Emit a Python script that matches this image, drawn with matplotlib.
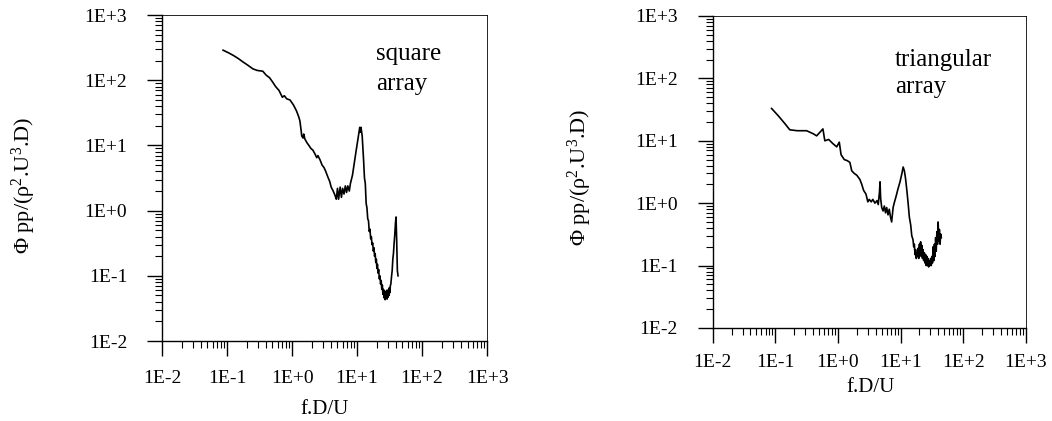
import numpy as np
import matplotlib
matplotlib.use("Agg")
import matplotlib.pyplot as plt
from matplotlib.ticker import LogLocator, FuncFormatter, NullFormatter

plt.rcParams['font.family'] = ['Liberation Serif', 'DejaVu Serif']
plt.rcParams['mathtext.fontset'] = 'custom'
plt.rcParams['mathtext.rm'] = 'Liberation Serif'
plt.rcParams['mathtext.it'] = 'Liberation Serif:italic'

# square array spectrum (f.D/U, Phi_pp / (rho^2 U^3 D))
sq_x = [0.087, 0.105, 0.126, 0.15, 0.178, 0.21, 0.25, 0.29, 0.32, 0.355, 0.40, 0.45,
        0.50, 0.56, 0.63, 0.71, 0.76, 0.83, 0.93, 1.05, 1.17, 1.26, 1.32, 1.38, 1.41,
        1.48, 1.51, 1.58, 1.70, 1.82, 1.95, 2.09, 2.24, 2.4, 2.5, 2.7, 2.9, 3.1, 3.3,
        3.55, 3.8, 4.0, 4.3, 4.6, 4.8, 5.0, 5.2, 5.5, 5.75, 6.0, 6.3, 6.6, 6.9, 7.2,
        7.6, 7.9, 8.5, 9.1, 9.8, 10.5, 11.0, 11.2, 11.5, 12.0,
        12.6, 13.0, 13.4, 13.8, 14.2, 14.6, 15.0, 15.4, 15.8, 16.2,
        16.6, 17.0, 17.4, 17.8, 18.2, 18.6, 19.0, 19.4, 19.8, 20.2,
        20.6, 21.0, 21.5, 22.0, 22.5, 23.0, 23.5, 24.0, 24.5, 25.0,
        25.5, 26.0, 26.5, 27.0, 27.5, 28.0, 28.5, 29.0, 29.5, 30.0,
        30.5, 31.0, 31.5, 32.0, 32.5, 33.1, 34.0, 34.7, 35.5, 36.3,
        37.2, 38.0, 39.0, 39.8, 40.7, 41.7, 42.7]
sq_y = [290, 265, 240, 215, 190, 170, 150, 142, 140, 138, 120, 110,
        95, 80, 70, 55, 58, 52, 50, 42, 34, 28, 24, 17, 14,
        13, 15, 12.5, 11, 10, 9, 8.5, 7.5, 6.5, 7, 6, 5, 4.6, 4.0,
        3.3, 2.8, 2.3, 2.0, 1.7, 1.5, 2.2, 1.5, 2.3, 1.6, 2.2, 1.8, 2.4, 1.9, 2.4,
        2.0, 2.6, 3.5, 5.5, 9, 14, 19, 16, 19, 14,
        6, 3.2, 2.6, 1.3, 1.1, 0.75, 0.7, 0.48, 0.52, 0.37,
        0.40, 0.30, 0.32, 0.24, 0.27, 0.20, 0.22, 0.16, 0.18, 0.13,
        0.15, 0.11, 0.125, 0.09, 0.10, 0.075, 0.085, 0.062, 0.072, 0.052,
        0.062, 0.046, 0.058, 0.043, 0.056, 0.045, 0.06, 0.044, 0.058, 0.047,
        0.062, 0.05, 0.066, 0.055, 0.07, 0.075, 0.1, 0.12, 0.18, 0.22,
        0.32, 0.42, 0.65, 0.8, 0.35, 0.12, 0.10]

# triangular array spectrum
tr_x = [0.087, 0.112, 0.141, 0.17, 0.224, 0.316, 0.40, 0.457, 0.525, 0.575, 0.617,
        0.71, 0.83, 0.955, 1.05, 1.12, 1.26, 1.41, 1.55, 1.66, 1.82, 2.0, 2.24, 2.4,
        2.57, 2.8, 3.0, 3.16, 3.4, 3.6, 3.9, 4.2, 4.4, 4.6, 4.7, 4.8, 5.0, 5.25, 5.5,
        5.75, 6.0, 6.3, 6.6, 6.9, 7.2, 7.6, 7.9, 8.5, 9.1, 9.8, 10.5, 11.0, 11.5, 12.0,
        12.6,
        13.2, 13.8, 14.5, 15.1, 15.8, 16.2, 16.6, 17.0, 17.4, 17.8,
        18.2, 18.6, 19.1, 19.5, 20.0, 20.4, 20.9, 21.4, 21.9, 22.4,
        22.9, 23.4, 24.0, 24.5, 25.1, 25.7, 26.3, 26.9, 27.5, 28.1,
        28.8, 29.5, 30.2, 30.9, 31.6, 32.3, 33.1, 33.9, 34.7, 35.5,
        36.3, 37.1, 38.0, 38.9, 39.8, 40.7, 41.7, 42.7, 43.7, 44.7]
tr_y = [33, 25, 19, 15, 14.5, 14.5, 13, 12, 14, 15.5, 10,
        10.5, 9, 8, 9.5, 6, 5, 4.8, 4.5, 3.3, 3.0, 2.8, 2.4, 2.0,
        1.6, 1.4, 1.05, 1.15, 1.05, 1.15, 1.0, 1.1, 0.95, 1.5, 2.2, 1.2, 0.85, 0.75, 0.9,
        0.7, 0.85, 0.65, 0.8, 0.6, 0.5, 0.85, 1.0, 1.3, 1.7, 2.2, 3.0, 3.8, 3.3, 2.5,
        1.6,
        1.0, 0.6, 0.45, 0.30, 0.26, 0.20, 0.22, 0.15, 0.18, 0.13,
        0.16, 0.14, 0.19, 0.13, 0.22, 0.15, 0.24, 0.14, 0.21, 0.13,
        0.18, 0.12, 0.16, 0.11, 0.15, 0.10, 0.14, 0.10, 0.13, 0.095,
        0.12, 0.10, 0.13, 0.10, 0.14, 0.11, 0.20, 0.12, 0.22, 0.14,
        0.28, 0.17, 0.35, 0.22, 0.50, 0.25, 0.38, 0.22, 0.32, 0.28]

tick_vals = [1e-2, 1e-1, 1e0, 1e1, 1e2, 1e3]
tick_text = ['1E-2', '1E-1', '1E+0', '1E+1', '1E+2', '1E+3']


def fmt(v, pos):
    for t, s in zip(tick_vals, tick_text):
        if abs(np.log10(v) - np.log10(t)) < 1e-6:
            return s
    return ''


def setup(ax, xpad, ypad):
    ax.set_xscale('log')
    ax.set_yscale('log')
    ax.set_xlim(1e-2, 1e3)
    ax.set_ylim(1e-2, 1e3)
    for a in (ax.xaxis, ax.yaxis):
        a.set_major_locator(LogLocator(base=10, numticks=10))
        a.set_minor_locator(LogLocator(base=10, subs=np.arange(2, 10), numticks=20))
        a.set_major_formatter(FuncFormatter(fmt))
        a.set_minor_formatter(NullFormatter())
    ax.tick_params(which='major', direction='out', length=11, width=1.0, labelsize=14)
    ax.tick_params(which='minor', direction='out', length=5, width=0.8)
    ax.tick_params(axis='x', which='major', pad=xpad)
    ax.tick_params(axis='y', which='major', pad=ypad)
    for s in ('top', 'right'):
        ax.spines[s].set_linewidth(0.6)
    for s in ('left', 'bottom'):
        ax.spines[s].set_linewidth(1.0)


fig = plt.figure(figsize=(10.52, 4.21), dpi=100)
ax1 = fig.add_axes([0.154, 0.190, 0.309, 0.774])
ax2 = fig.add_axes([0.6775, 0.221, 0.2976, 0.741])

ylab = 'Φ pp/(ρ$^{2}$.U$^{3}$.D)'

ax1.plot(sq_x, sq_y, color='black', linewidth=1.2)
setup(ax1, 10, 14)
ax1.set_xlabel('f.D/U', fontsize=15)
ax1.xaxis.set_label_coords(0.5, -0.18)
ax1.set_ylabel(ylab, fontsize=16)
ax1.yaxis.set_label_coords(-0.38, 0.477)
ax1.text(0.658, 0.862, 'square', transform=ax1.transAxes, fontsize=18,
         va='baseline', ha='left')
ax1.text(0.658, 0.770, 'array', transform=ax1.transAxes, fontsize=18,
         va='baseline', ha='left')

ax2.plot(tr_x, tr_y, color='black', linewidth=1.2)
setup(ax2, 8, 14)
ax2.set_xlabel('f.D/U', fontsize=15)
ax2.xaxis.set_label_coords(0.503, -0.16)
ax2.set_ylabel(ylab, fontsize=16)
ax2.yaxis.set_label_coords(-0.38, 0.482)
ax2.text(0.582, 0.84, 'triangular', transform=ax2.transAxes, fontsize=18,
         va='baseline', ha='left')
ax2.text(0.582, 0.753, 'array', transform=ax2.transAxes, fontsize=18,
         va='baseline', ha='left')

fig.savefig('out.png', dpi=100)
